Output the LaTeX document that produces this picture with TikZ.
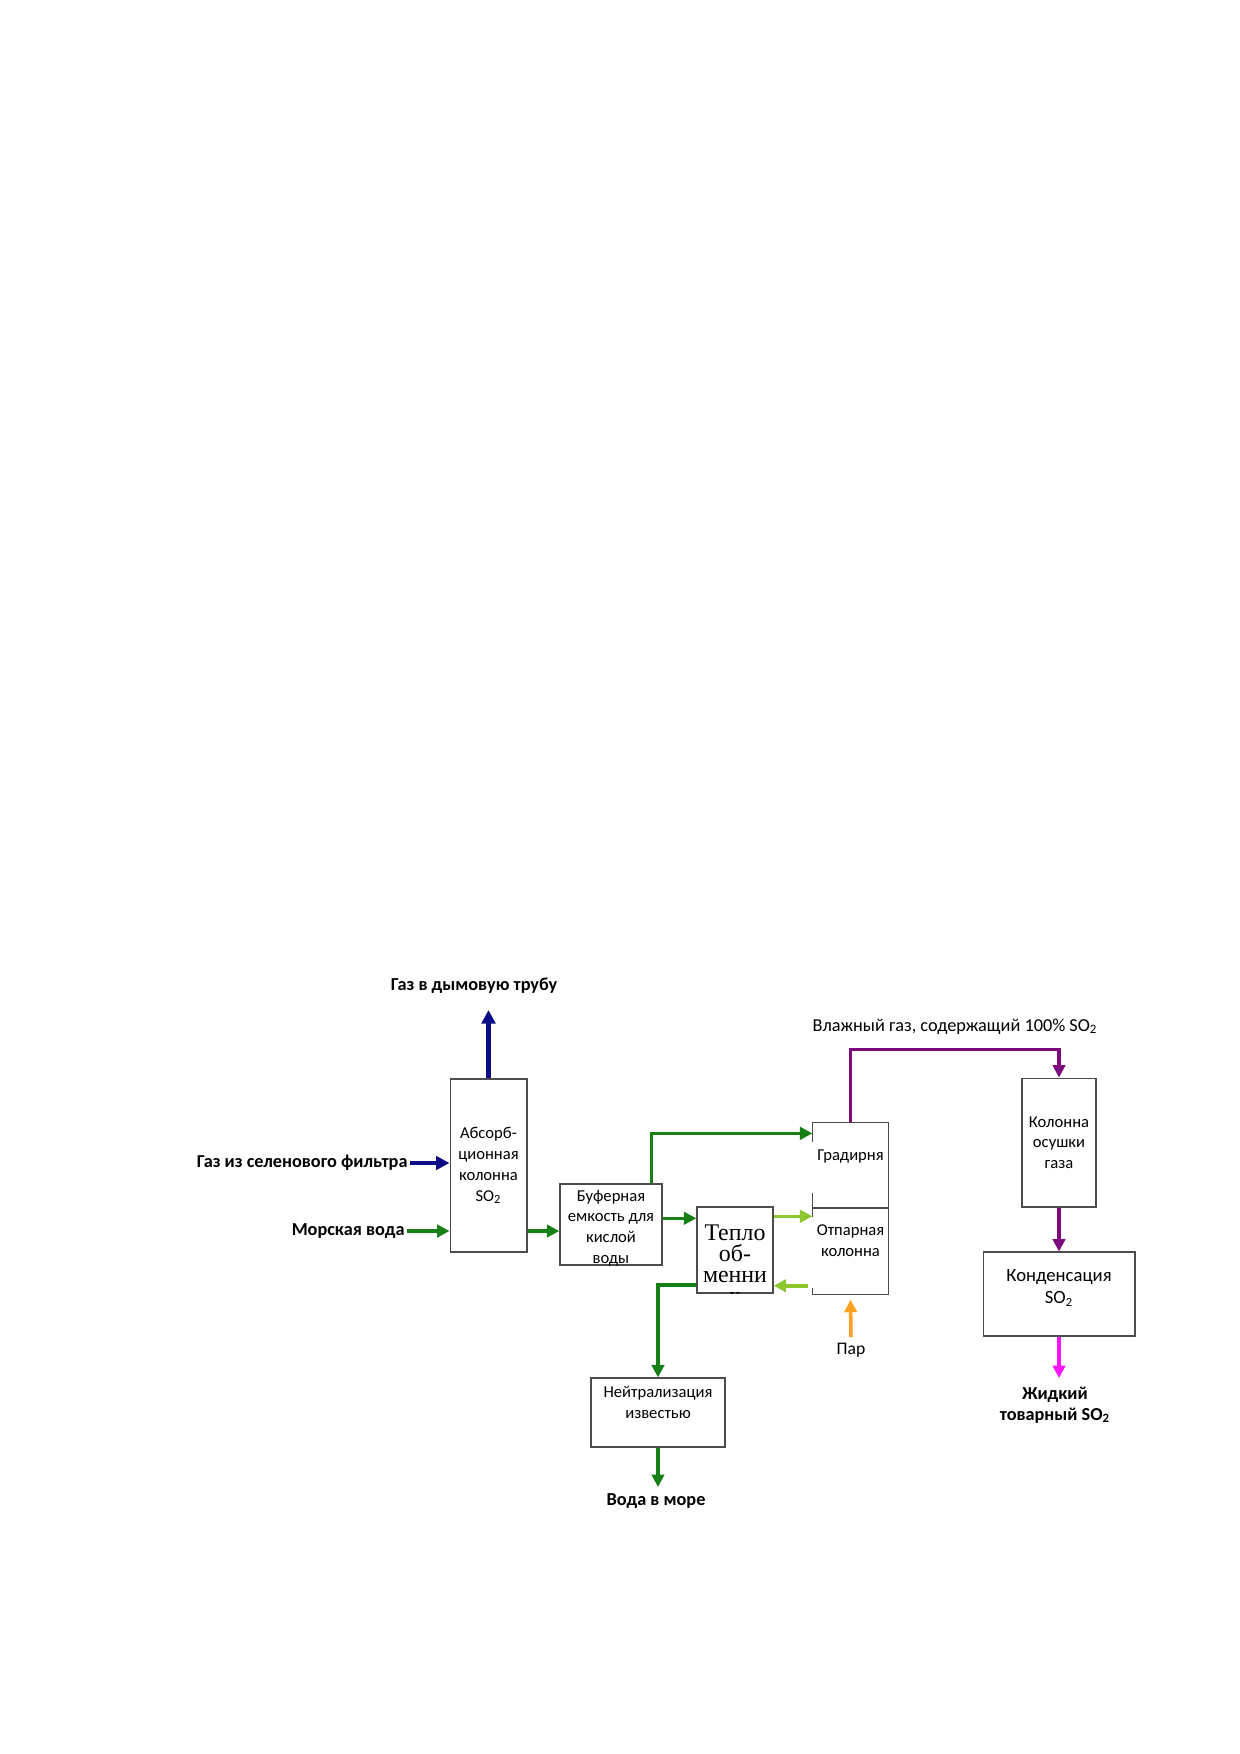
\documentclass[tikz,border=0pt]{standalone}
\usepackage{fontspec}
\setmainfont{Carlito}
\newfontfamily\tplfont{Liberation Serif}
\usetikzlibrary{arrows.meta,positioning,calc}

\definecolor{gasblue}{RGB}{12,12,135}
\definecolor{watergreen}{RGB}{22,128,22}
\definecolor{lightgreen}{RGB}{140,200,45}
\definecolor{so2purple}{RGB}{125,10,125}
\definecolor{steamorange}{RGB}{250,160,35}
\definecolor{liqmagenta}{RGB}{250,20,250}

\begin{document}
\begin{tikzpicture}[x=0.16935mm, y=-0.16935mm,
  box/.style={draw=black!70, line width=0.6pt, inner sep=0pt},
  boxline/.style={draw=black!70, line width=0.6pt},
  txt/.style={align=center, inner sep=1pt, font=\fontsize{8}{10}\selectfont},
  bold/.style={align=center, inner sep=1pt, font=\fontsize{8.8}{10}\selectfont\bfseries},
  flow/.style={line width=1.7pt, -{Triangle[length=6pt, width=6pt]}},
  gasflow/.style={line width=2pt, -{Triangle[length=6.5pt, width=6.5pt]}, gasblue}]

\useasboundingbox (0,0) rectangle (1240,1754);

% boxes
\node[box, minimum width=13mm, minimum height=29.3mm] (absorb) at (488.5,1165.5) {};
\node[box, minimum width=17.3mm, minimum height=13.7mm] (buffer) at (611,1224.5) {};
\node[box, minimum width=12.9mm, minimum height=14.6mm] (teplo) at (735,1250) {};
\node[box, draw=none, minimum width=12.7mm, minimum height=14.4mm] (grad) at (850.5,1165.5) {};
\node[box, draw=none, minimum width=12.7mm, minimum height=14.6mm] (otp) at (850.5,1251) {};
\node[box, minimum width=12.5mm, minimum height=21.8mm] (dryer) at (1059,1142.5) {};
\node[box, minimum width=25.7mm, minimum height=14.2mm] (cond) at (1059,1294) {};
\node[box, minimum width=22.7mm, minimum height=11.7mm] (neutr) at (658,1412.5) {};

% open left sides where the streams come in
\draw[boxline] ($(grad.north west)+(0,20)$) |- (grad.north east) |- (grad.south west) -- ++(0,-16);
\draw[boxline] ($(otp.north west)+(0,10)$) |- (otp.north east) |- (otp.south west) -- ++(0,-7);

% box texts
\node[txt] (absorb_t) at (absorb.center) {Абсорб-\\ционная\\колонна\\SO\textsubscript{2}};
\node[txt] (buffer_t) at (611,1228) {Буферная\\емкость для\\кислой\\воды};
\node[txt] (grad_t) at (850.5,1157) {Градирня};
\node[txt] (otp_t) at (850.5,1241) {Отпарная\\колонна};
\node[txt] (dryer_t) at (dryer.center) {Колонна\\осушки\\газа};
\node[txt, font=\fontsize{9}{10.6}\selectfont] (cond_t) at (1059,1288) {Конденсация\\SO\textsubscript{2}};
\node[txt] (neutr_t) at (658,1402.5) {Нейтрализация\\известью};
\begin{scope}
\clip (teplo.north west) rectangle (teplo.south east);
\node[align=center, inner sep=0pt, font=\tplfont\fontsize{11.5}{10.2}\selectfont] (teplo_t) at (735,1264) {Тепло\\об-\\менни\\к};
\end{scope}

% outside labels
\node[bold] (stack) at (474,986) {Газ в дымовую трубу};
\node[bold, anchor=east] (gasin) at (410,1163) {Газ из селенового фильтра};
\node[bold, anchor=east] (sea) at (407,1231) {Морская вода};
\node[bold] (seaout) at (656,1501) {Вода в море};
\node[txt, font=\fontsize{8.8}{10}\selectfont] (wetgas) at (955,1027) {Влажный газ, содержащий 100\% SO\textsubscript{2}};
\node[txt, font=\fontsize{8.5}{10}\selectfont] (steam) at (851,1350) {Пар};
\node[bold] (product) at (1055,1405) {Жидкий\\товарный SO\textsubscript{2}};

% free ends
\coordinate (stack_end) at (488.5,1010);
\coordinate (seaout_end) at (658,1487);
\coordinate (liq_end) at (1059,1378);
\coordinate (steam_start) at (851,1337);
\coordinate (teplo_in) at ($(teplo.north west)+(0,12)$);
\coordinate (otp_in) at ($(otp.north west)+(0,9)$);
\coordinate (otp_out) at ($(otp.south west)+(-4,-9)$);
\coordinate (teplo_out) at ($(teplo.south west)+(0,-9)$);

% gas
\draw[gasflow] (absorb.north) -- (stack_end);
\draw[gasflow] (gasin.east) -- (absorb.west |- gasin.east);

% water
\draw[flow, watergreen] (sea.east) -- (absorb.west |- sea.east);
\draw[flow, watergreen] (absorb.east |- sea.east) -- (buffer.west |- sea.east);
\draw[flow, watergreen] ($(buffer.north east)+(-11,0)$) |- ($(grad.north west)+(0,11)$);
\draw[flow, watergreen] (buffer.east |- teplo_in) -- (teplo_in);
\draw[flow, lightgreen] (teplo.east |- otp_in) -- (otp_in);
\draw[flow, lightgreen] (otp_out) -- (teplo.east |- otp_out);
\draw[flow, watergreen] (teplo_out) -| (neutr.north);
\draw[flow, watergreen] (neutr.south) -- (seaout_end);

% SO2
\draw[flow, so2purple] (grad.north) |- ($(dryer.north)+(0,-28)$) -- (dryer.north);
\draw[flow, so2purple] (dryer.south) -- (cond.north);
\draw[flow, liqmagenta] (cond.south) -- (liq_end);
\draw[flow, steamorange] (steam_start) -- ($(otp.south)+(0,5)$);

\end{tikzpicture}
\end{document}
